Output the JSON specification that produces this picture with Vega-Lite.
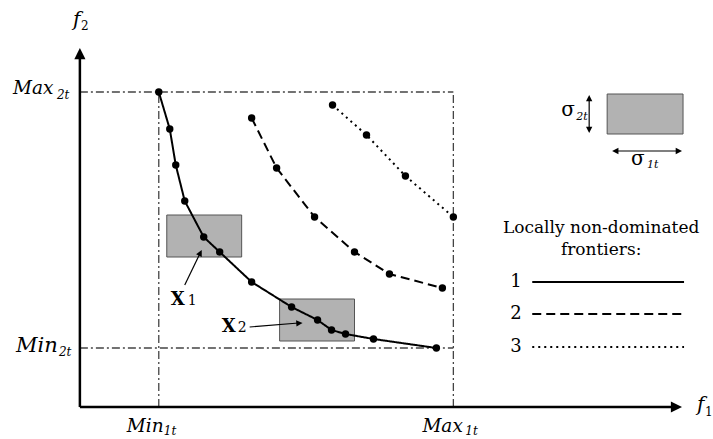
{
  "$schema": "https://vega.github.io/schema/vega-lite/v6.json",
  "width": 713,
  "height": 439,
  "padding": 0,
  "autosize": {"type": "fit", "contains": "padding"},
  "background": "white",
  "config": {"view": {"stroke": null}, "text": {"font": "DejaVu Serif"}},
  "encoding": {
    "x": {"field": "x", "type": "quantitative", "scale": {"domain": [-80, 633], "nice": false, "zero": false}, "axis": null},
    "y": {"field": "y", "type": "quantitative", "scale": {"domain": [-32, 407], "nice": false, "zero": false}, "axis": null}
  },
  "layer": [
    {
      "data": {"values": [
        {"name": "X1", "x": 87, "x2": 162, "y": 150, "y2": 192},
        {"name": "X2", "x": 200, "x2": 275, "y": 66, "y2": 108},
        {"name": "sigma", "x": 528, "x2": 604, "y": 273, "y2": 313}
      ]},
      "mark": {"type": "rect", "fill": "#b2b2b2", "stroke": "#555555", "strokeWidth": 1},
      "encoding": {"x2": {"field": "x2"}, "y2": {"field": "y2"}}
    },
    {
      "data": {"values": [
        {"x": 0, "y": 315, "x2": 374, "y2": 315},
        {"x": 0, "y": 59, "x2": 374, "y2": 59},
        {"x": 79, "y": 0, "x2": 79, "y2": 315},
        {"x": 374, "y": 0, "x2": 374, "y2": 315}
      ]},
      "mark": {"type": "rule", "color": "#444444", "strokeWidth": 1.3, "strokeDash": [8, 3, 2, 3]},
      "encoding": {"x2": {"field": "x2"}, "y2": {"field": "y2"}}
    },
    {
      "data": {"values": [
        {"x": 0, "y": 0, "x2": 596, "y2": 0},
        {"x": 0, "y": 0, "x2": 0, "y2": 352}
      ]},
      "mark": {"type": "rule", "color": "black", "strokeWidth": 2.5},
      "encoding": {"x2": {"field": "x2"}, "y2": {"field": "y2"}}
    },
    {
      "data": {"values": [
        {"s": "1", "x": 79, "y": 315}, {"s": "1", "x": 90, "y": 278}, {"s": "1", "x": 96, "y": 242},
        {"s": "1", "x": 105, "y": 206}, {"s": "1", "x": 124, "y": 170}, {"s": "1", "x": 140, "y": 155},
        {"s": "1", "x": 172, "y": 125}, {"s": "1", "x": 212, "y": 100}, {"s": "1", "x": 238, "y": 87},
        {"s": "1", "x": 252, "y": 77}, {"s": "1", "x": 266, "y": 73}, {"s": "1", "x": 294, "y": 68},
        {"s": "1", "x": 357, "y": 59},
        {"s": "2", "x": 172, "y": 289}, {"s": "2", "x": 197, "y": 239}, {"s": "2", "x": 235, "y": 190},
        {"s": "2", "x": 275, "y": 155}, {"s": "2", "x": 310, "y": 133}, {"s": "2", "x": 363, "y": 119},
        {"s": "3", "x": 253, "y": 302}, {"s": "3", "x": 287, "y": 272}, {"s": "3", "x": 326, "y": 231},
        {"s": "3", "x": 374, "y": 190}
      ]},
      "layer": [
        {
          "mark": {"type": "line", "color": "black", "strokeWidth": 2},
          "encoding": {
            "detail": {"field": "s"},
            "strokeDash": {"field": "s", "type": "nominal", "scale": {"domain": ["1", "2", "3"], "range": [[1, 0], [9, 5], [2, 4]]}, "legend": null}
          }
        },
        {
          "mark": {"type": "circle", "color": "black", "opacity": 1, "size": 55}
        }
      ]
    },
    {
      "data": {"values": [
        {"s": "1", "x": 453, "y": 125, "x2": 605, "y2": 125},
        {"s": "2", "x": 453, "y": 93, "x2": 605, "y2": 93},
        {"s": "3", "x": 453, "y": 60, "x2": 605, "y2": 60}
      ]},
      "mark": {"type": "rule", "color": "black", "strokeWidth": 2},
      "encoding": {
        "x2": {"field": "x2"}, "y2": {"field": "y2"},
        "strokeDash": {"field": "s", "type": "nominal", "scale": {"domain": ["1", "2", "3"], "range": [[1, 0], [9, 5], [2, 4]]}, "legend": null}
      }
    },
    {
      "data": {"values": [
        {"x": 105, "y": 122, "x2": 120, "y2": 153},
        {"x": 170, "y": 80, "x2": 219, "y2": 84},
        {"x": 510, "y": 276, "x2": 510, "y2": 310},
        {"x": 535, "y": 256, "x2": 601, "y2": 256}
      ]},
      "mark": {"type": "rule", "color": "black", "strokeWidth": 1.2},
      "encoding": {"x2": {"field": "x2"}, "y2": {"field": "y2"}}
    },
    {
      "data": {"values": [
        {"x": 0, "y": 359, "a": 0, "sz": 500},
        {"x": 603, "y": 0, "a": 90, "sz": 500},
        {"x": 510, "y": 312, "a": 0, "sz": 160},
        {"x": 510, "y": 274, "a": 180, "sz": 160},
        {"x": 533, "y": 256, "a": 270, "sz": 160},
        {"x": 603, "y": 256, "a": 90, "sz": 160},
        {"x": 122, "y": 157, "a": 26, "sz": 160},
        {"x": 223, "y": 84, "a": 86, "sz": 160}
      ]},
      "mark": {"type": "point", "shape": "M0,0L-0.5,1L0.5,1Z", "filled": true, "color": "black", "opacity": 1, "strokeWidth": 0},
      "encoding": {
        "angle": {"field": "a", "type": "quantitative", "scale": null},
        "size": {"field": "sz", "type": "quantitative", "scale": null}
      }
    },
    {
      "data": {"values": [
        {"x": -67, "y": 319, "t": "Max", "sz": 18.5},
        {"x": -23, "y": 312, "t": "2t", "sz": 12},
        {"x": -64, "y": 61, "t": "Min", "sz": 21},
        {"x": -21, "y": 55, "t": "2t", "sz": 12},
        {"x": 47, "y": -19, "t": "Min", "sz": 18.5},
        {"x": 84, "y": -24, "t": "1t", "sz": 12},
        {"x": 343, "y": -19, "t": "Max", "sz": 18.5},
        {"x": 386, "y": -24, "t": "1t", "sz": 12},
        {"x": -7, "y": 387, "t": "f", "sz": 20},
        {"x": 618, "y": 2, "t": "f", "sz": 20},
        {"x": 497, "y": 290, "t": "2t", "sz": 11},
        {"x": 568, "y": 242, "t": "1t", "sz": 11}
      ]},
      "mark": {"type": "text", "font": "DejaVu Serif", "fontStyle": "italic", "align": "left", "baseline": "middle", "color": "black"},
      "encoding": {"text": {"field": "t"}, "size": {"field": "sz", "type": "quantitative", "scale": null}}
    },
    {
      "data": {"values": [
        {"x": 1, "y": 381, "t": "2", "sz": 12},
        {"x": 626, "y": -5, "t": "1", "sz": 12},
        {"x": 108, "y": 106, "t": "1", "sz": 14},
        {"x": 158, "y": 79, "t": "2", "sz": 14},
        {"x": 482, "y": 297, "t": "σ", "sz": 20},
        {"x": 552, "y": 248, "t": "σ", "sz": 20},
        {"x": 431, "y": 125, "t": "1", "sz": 18},
        {"x": 431, "y": 93, "t": "2", "sz": 18},
        {"x": 431, "y": 60, "t": "3", "sz": 18}
      ]},
      "mark": {"type": "text", "font": "DejaVu Serif", "align": "left", "baseline": "middle", "color": "black"},
      "encoding": {"text": {"field": "t"}, "size": {"field": "sz", "type": "quantitative", "scale": null}}
    },
    {
      "data": {"values": [
        {"x": 522, "y": 179, "t": "Locally non-dominated"},
        {"x": 522, "y": 157, "t": "frontiers:"}
      ]},
      "mark": {"type": "text", "font": "DejaVu Serif", "fontSize": 17, "align": "center", "baseline": "middle", "color": "black"},
      "encoding": {"text": {"field": "t"}}
    },
    {
      "data": {"values": [
        {"x": 91, "y": 107, "t": "X"},
        {"x": 142, "y": 80, "t": "X"}
      ]},
      "mark": {"type": "text", "font": "DejaVu Serif", "fontSize": 18, "fontWeight": "bold", "align": "left", "baseline": "middle", "color": "black"},
      "encoding": {"text": {"field": "t"}}
    }
  ]
}
